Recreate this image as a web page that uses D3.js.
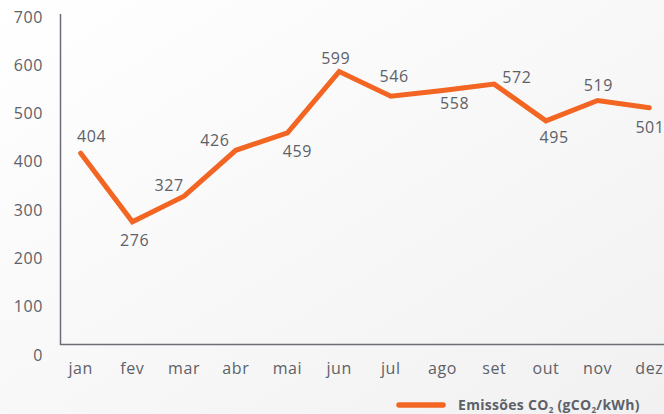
<!DOCTYPE html>
<html>
<head>
<meta charset="utf-8">
<script src="https://cdn.jsdelivr.net/npm/d3@7"></script>
<style>
  html, body { margin: 0; padding: 0; }
  body { width: 664px; height: 414px; overflow: hidden; }
  svg { display: block; font-family: "Open Sans", sans-serif; }
  .tick-label { fill: #5d6168; font-size: 16px; letter-spacing: 0.6px; }
  .value-label { fill: #5d6168; font-size: 16px; letter-spacing: 0.6px; }
  .legend-text { fill: #5d6168; font-size: 14px; font-weight: 700; letter-spacing: 0.3px; }
</style>
</head>
<body>
<svg width="664" height="414"></svg>
<script>
// months on the x axis
var months = ["jan", "fev", "mar", "abr", "mai", "jun", "jul", "ago", "set", "out", "nov", "dez"];
// where the line is drawn
var lineValues = [418, 276, 329, 424, 460, 587, 536, 548, 561, 485, 527, 512];
// the numbers printed next to the points
var valueLabels = [404, 276, 327, 426, 459, 599, 546, 558, 572, 495, 519, 501];
var yTicks = [0, 100, 200, 300, 400, 500, 600, 700];

var orange = "#f26522";

var svg = d3.select("svg");

// soft background shading
var defs = svg.append("defs");
var bg = defs.append("linearGradient")
    .attr("id", "bg")
    .attr("x1", "0").attr("y1", "0")
    .attr("x2", "1").attr("y2", "1");
bg.append("stop").attr("offset", "0%").style("stop-color", "#ffffff");
bg.append("stop").attr("offset", "100%").style("stop-color", "#f1f1f1");

svg.append("rect")
    .attr("width", 664)
    .attr("height", 414)
    .attr("fill", "url(#bg)");

var x = d3.scalePoint()
    .domain(months)
    .range([80.7, 649.3]);

var y = d3.scaleLinear()
    .domain([0, 700])
    .range([355, 17]);

// frame (left + bottom)
svg.append("path")
    .attr("d", "M60.5,14 V344.5 H664")
    .attr("fill", "none")
    .attr("stroke", "#6b6f75")
    .attr("stroke-width", 1.5);

// y tick labels
svg.append("g")
    .selectAll("text")
    .data(yTicks)
    .enter()
    .append("text")
    .attr("class", "tick-label")
    .attr("x", 43)
    .attr("y", function(d) { return y(d); })
    .attr("dy", "0.35em")
    .style("text-anchor", "end")
    .text(function(d) { return d; });

// x tick labels
svg.append("g")
    .selectAll("text")
    .data(months)
    .enter()
    .append("text")
    .attr("class", "tick-label")
    .attr("x", function(d) { return x(d); })
    .attr("y", 368)
    .attr("dy", "0.35em")
    .style("text-anchor", "middle")
    .text(function(d) { return d; });

// the line
var line = d3.line()
    .x(function(d, i) { return x(months[i]); })
    .y(function(d) { return y(d); });

svg.append("path")
    .datum(lineValues)
    .attr("d", line)
    .attr("fill", "none")
    .attr("stroke", orange)
    .attr("stroke-width", 5)
    .attr("stroke-linejoin", "miter")
    .attr("stroke-linecap", "round");

// label offsets from each point (dx, dy)
var offsets = [[11, -16.6], [2.3, 18.3], [-15, -11], [-21, -10], [10, 19], [-3.4, -12.7],
               [3.3, -19.3], [12, 13], [22.7, -6.7], [8.3, 16.3], [0.7, -14.7], [0.7, 19.6]];

svg.append("g")
    .selectAll("text")
    .data(valueLabels)
    .enter()
    .append("text")
    .attr("class", "value-label")
    .attr("x", function(d, i) { return x(months[i]) + offsets[i][0]; })
    .attr("y", function(d, i) { return y(lineValues[i]) + offsets[i][1]; })
    .attr("dy", "0.35em")
    .style("text-anchor", "middle")
    .text(function(d) { return d; });

// legend
var legend = svg.append("g");
legend.append("line")
    .attr("x1", 399).attr("x2", 443)
    .attr("y1", 405).attr("y2", 405)
    .attr("stroke", orange)
    .attr("stroke-width", 5.5)
    .attr("stroke-linecap", "round");

var lt = legend.append("text")
    .attr("class", "legend-text")
    .attr("x", 458)
    .attr("y", 409.5);
lt.append("tspan").text("Emissões CO");
lt.append("tspan").attr("font-size", "8px").attr("dy", 3).text("2");
lt.append("tspan").attr("dy", -3).text(" (gCO");
lt.append("tspan").attr("font-size", "8px").attr("dy", 3).text("2");
lt.append("tspan").attr("dy", -3).text("/kWh)");
</script>
</body>
</html>
